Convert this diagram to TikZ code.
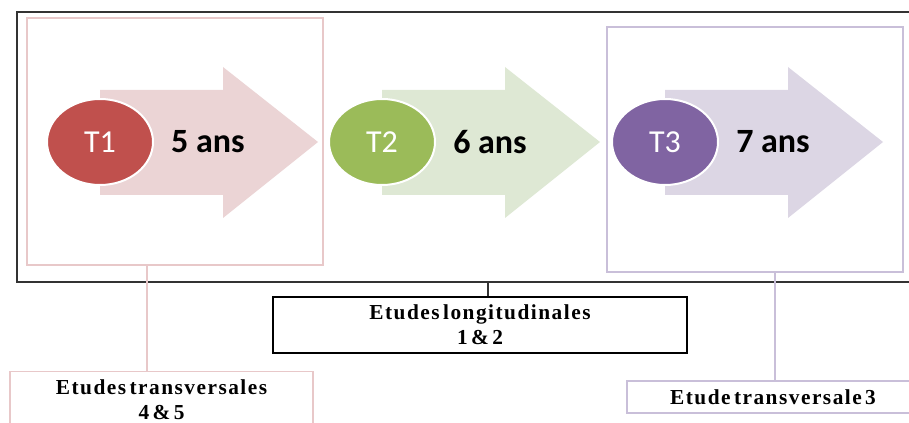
\documentclass[tikz,border=0pt]{standalone}
\usepackage{fontspec}
\setmainfont{Liberation Serif}
\newfontfamily\stagefont{Carlito}
\newfontfamily\studyfont[LetterSpace=7,WordSpace=0.5]{Liberation Serif}
\usetikzlibrary{shapes.geometric}

\definecolor{stagered}{HTML}{C0504D}
\definecolor{stagegreen}{HTML}{9BBB59}
\definecolor{stagepurple}{HTML}{8064A2}
\definecolor{arrowred}{HTML}{EBD4D5}
\definecolor{arrowgreen}{HTML}{DEE8D4}
\definecolor{arrowpurple}{HTML}{DCD6E4}
\definecolor{framered}{HTML}{E8C8C9}
\definecolor{framepurple}{HTML}{C9BFD9}

\tikzset{
	stage/.style={ellipse, draw=white, line width=1.5pt, minimum width=79.5pt, minimum height=64.5pt,
		inner sep=0pt, text=white, font=\stagefont\fontsize{24}{24}\selectfont},
	age/.style={font=\stagefont\bfseries\fontsize{25.5}{25.5}\selectfont},
	frame/.style={rectangle, line width=1.5pt, inner sep=0pt},
	study/.style={rectangle, draw, line width=1pt, fill=white, align=center, inner sep=0pt,
		font=\studyfont\bfseries\fontsize{16}{18.75}\selectfont},
}

\begin{document}
\begin{tikzpicture}[x=0.75pt, y=-0.75pt]
		%%%%% START %%%%%
		\clip (0,0) rectangle (909,423);
		
		% big frame and the two coloured ones
		\node[frame, draw=black!80, line width=1.1pt, minimum width=673.5pt, minimum height=202.5pt] (outer) at (466,147) {};
		\node[frame, draw=framered, minimum width=222pt, minimum height=185.25pt] (f1) at (175,141.5) {};
		\node[frame, draw=framepurple, minimum width=222pt, minimum height=183.75pt] (f3) at (755,149.5) {};
		
		% stages
		\foreach \x/\n/\yr/\c in {100/1/5/red, 382/2/6/green, 665/3/7/purple}{
			\fill[arrow\c] (\x,90) -- ++(123,0) -- ++(0,-23) -- ++(95,75) -- ++(-95,76) -- ++(0,-23) -- ++(-123,0) -- cycle;
			\node[stage, fill=stage\c] (t\n) at (\x,142) {T\n};
			\node[age] (a\n) at ({\x+108},142) {\yr{} ans};
		}
		
		% studies
		\node[study, minimum width=310.5pt, minimum height=42pt] (long) at (480,325) {Etudes longitudinales\\1 \& 2};
		\node[study, draw=framered, minimum width=227.25pt, minimum height=42.75pt] (t45) at (161.5,400) {Etudes transversales\\4 \& 5};
		\node[study, draw=framepurple, minimum width=219pt, minimum height=24pt] (t3) at (773,397) {Etude transversale 3};
		
		\coordinate (tap1) at (147,0);
		\coordinate (tap2) at (488,0);
		\coordinate (tap3) at (775,0);
		\draw[framered, line width=1.5pt] (f1.south -| tap1) -- (t45.north -| tap1);
		\draw[black!80, line width=1pt] (outer.south -| tap2) -- (long.north -| tap2);
		\draw[framepurple, line width=1.5pt] (f3.south -| tap3) -- (t3.north -| tap3);
		
		%%%%% END %%%%%
\end{tikzpicture}
\end{document}
